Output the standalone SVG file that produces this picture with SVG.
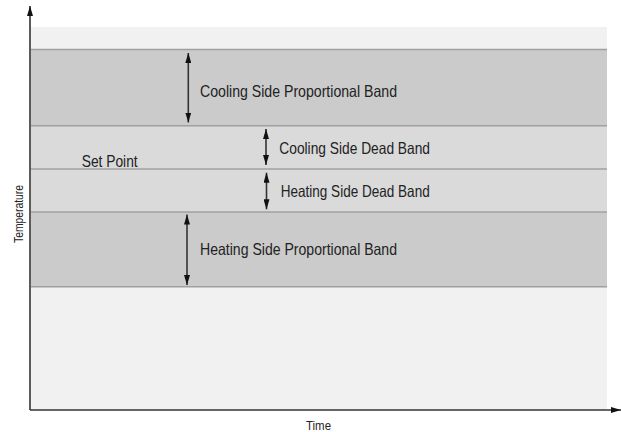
<svg xmlns="http://www.w3.org/2000/svg" width="621" height="432" viewBox="0 0 621 432">
  <style>
    .lbl { font-family: "Liberation Sans Narrow", "Liberation Sans", Arial, sans-serif; font-size: 16.5px; fill: #222; }
    .axl { font-family: "Liberation Sans Narrow", "Liberation Sans", Arial, sans-serif; font-size: 13.5px; fill: #222; }
    .dark { fill: #cbcbcb; }
    .light { fill: #dadada; }
    .sep { stroke: #a0a0a0; stroke-width: 1.5; fill: none; }
    .dim { stroke: #333; stroke-width: 1.6; fill: none; marker-start: url(#ah); marker-end: url(#ah); }
    .axis { stroke: #333; stroke-width: 1.6; fill: none; marker-end: url(#ah); }
  </style>
  <defs>
    <marker id="ah" viewBox="0 0 10 6" refX="10" refY="3" markerWidth="10" markerHeight="6" markerUnits="userSpaceOnUse" orient="auto-start-reverse">
      <path d="M0,0 L10,3 L0,6 Z" fill="#111"/>
    </marker>
  </defs>
  <rect width="621" height="432" fill="#ffffff"/>
  <g id="plot-area">
    <rect x="31" y="27" width="576" height="383" fill="#f1f1f1"/>
  </g>
  <g id="cooling-proportional-band">
    <rect class="dark" x="31" y="49.5" width="576" height="76.2"/>
    <line class="dim" x1="188.3" y1="53" x2="188.3" y2="122.5"/>
    <text class="lbl" x="200" y="97" textLength="197" lengthAdjust="spacingAndGlyphs">Cooling Side Proportional Band</text>
  </g>
  <g id="cooling-dead-band">
    <rect class="light" x="31" y="125.7" width="576" height="43.3"/>
    <line class="dim" x1="266" y1="129" x2="266" y2="165"/>
    <text class="lbl" x="279.3" y="154.3" textLength="150.7" lengthAdjust="spacingAndGlyphs">Cooling Side Dead Band</text>
  </g>
  <g id="heating-dead-band">
    <rect class="light" x="31" y="169" width="576" height="43"/>
    <line class="dim" x1="266.5" y1="172.7" x2="266.5" y2="209.3"/>
    <text class="lbl" x="280.7" y="196.7" textLength="149" lengthAdjust="spacingAndGlyphs">Heating Side Dead Band</text>
  </g>
  <g id="heating-proportional-band">
    <rect class="dark" x="31" y="212" width="576" height="74.7"/>
    <line class="dim" x1="187" y1="214.5" x2="187" y2="285"/>
    <text class="lbl" x="200" y="255" textLength="197" lengthAdjust="spacingAndGlyphs">Heating Side Proportional Band</text>
  </g>
  <g id="set-point">
    <text class="lbl" x="81.7" y="166.7" textLength="56" lengthAdjust="spacingAndGlyphs">Set Point</text>
  </g>
  <g id="separators">
    <line class="sep" x1="31" y1="49.5" x2="607" y2="49.5"/>
    <line class="sep" x1="31" y1="125.7" x2="607" y2="125.7"/>
    <line class="sep" x1="31" y1="169" x2="607" y2="169"/>
    <line class="sep" x1="31" y1="212" x2="607" y2="212"/>
    <line class="sep" x1="31" y1="286.7" x2="607" y2="286.7" stroke-width="2"/>
  </g>
  <g id="connectors">
    <line class="axis" x1="30" y1="410" x2="30" y2="6"/>
    <line class="axis" x1="30" y1="410" x2="621" y2="410"/>
  </g>
  <g id="axis-labels">
    <text class="axl" x="318.5" y="429.5" text-anchor="middle" textLength="25" lengthAdjust="spacingAndGlyphs">Time</text>
    <text class="axl" transform="translate(22.5,214) rotate(-90)" x="0" y="0" text-anchor="middle" textLength="58" lengthAdjust="spacingAndGlyphs">Temperature</text>
  </g>
</svg>
